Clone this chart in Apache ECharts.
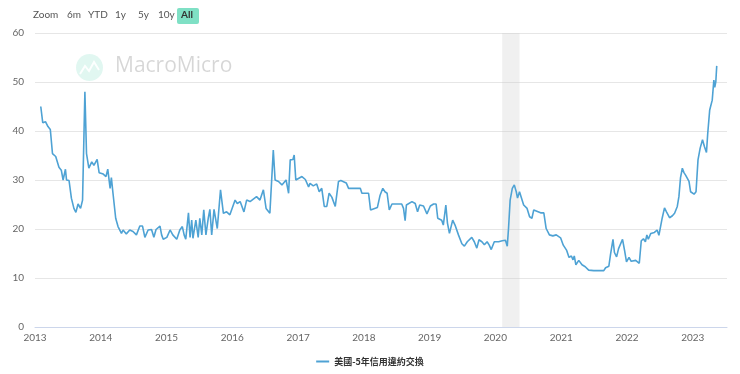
<!DOCTYPE html>
<html>
<head>
<meta charset="utf-8">
<script src="https://cdn.jsdelivr.net/npm/echarts@6/dist/echarts.min.js"></script>
<style>
html,body{margin:0;padding:0;background:#fff;}
#c{width:740px;height:374px;}
</style>
</head>
<body>
<div id="c"></div>
<script>
// ---- data ----
var seriesName = '美國-5年信用違約交換';
var yAxisName = 'Basis Point';
var rangeButtons = ['Zoom', '6m', 'YTD', '1y', '5y', '10y', 'All'];
var recession = ['2020-02-08', '2020-05-14'];
var axisStart = '2013-01-01';
var axisEnd = '2023-07-10';
var yTicks = [0, 10, 20, 30, 40, 50, 60];

var dates = [
'2013-02-02','2013-02-13','2013-02-28','2013-03-14','2013-03-27','2013-04-08','2013-04-26','2013-05-14','2013-05-27','2013-06-06',
'2013-06-19','2013-06-25','2013-07-09','2013-07-22','2013-08-05','2013-08-16','2013-08-28','2013-09-11','2013-09-22','2013-10-05',
'2013-10-14','2013-10-27','2013-11-12','2013-11-24','2013-12-12','2013-12-23','2014-01-15','2014-01-30','2014-02-09','2014-02-22',
'2014-03-01','2014-03-10','2014-03-25','2014-04-07','2014-04-26','2014-05-05','2014-05-23','2014-06-11','2014-06-29','2014-07-18',
'2014-08-06','2014-08-21','2014-09-03','2014-09-21','2014-10-10','2014-10-23','2014-11-04','2014-11-26','2014-12-05','2014-12-14',
'2015-01-03','2015-01-21','2015-02-05','2015-02-27','2015-03-16','2015-03-30','2015-04-09','2015-04-18','2015-05-03','2015-05-12',
'2015-05-21','2015-05-28','2015-06-13','2015-06-26','2015-07-05','2015-07-16','2015-07-27','2015-08-08','2015-08-21','2015-08-30',
'2015-09-09','2015-09-22','2015-10-10','2015-10-28','2015-11-13','2015-12-01','2015-12-19','2016-01-17','2016-01-29','2016-02-14',
'2016-03-06','2016-03-21','2016-04-09','2016-05-15','2016-06-03','2016-06-22','2016-07-07','2016-07-28','2016-08-16','2016-08-26',
'2016-09-14','2016-10-03','2016-10-26','2016-11-09','2016-11-18','2016-12-03','2016-12-10','2016-12-19','2017-01-22','2017-02-10',
'2017-02-28','2017-03-08','2017-03-26','2017-04-14','2017-04-28','2017-05-12','2017-05-26','2017-06-09','2017-06-22','2017-07-07',
'2017-07-16','2017-07-26','2017-08-13','2017-08-26','2017-09-25','2017-10-08','2017-12-12','2017-12-21','2018-01-27','2018-02-07',
'2018-03-17','2018-04-01','2018-04-16','2018-04-28','2018-05-10','2018-05-22','2018-06-06','2018-07-30','2018-08-09','2018-08-18',
'2018-08-25','2018-09-25','2018-10-13','2018-10-26','2018-11-07','2018-11-28','2018-12-17','2019-01-05','2019-01-23','2019-02-06',
'2019-02-15','2019-03-09','2019-03-18','2019-04-01','2019-04-10','2019-04-21','2019-05-09','2019-05-22','2019-06-10','2019-06-29',
'2019-07-13','2019-07-29','2019-08-23','2019-09-06','2019-09-20','2019-10-02','2019-10-18','2019-11-01','2019-11-16','2019-11-28',
'2019-12-09','2019-12-26','2020-01-19','2020-02-08','2020-02-26','2020-03-07','2020-03-14','2020-03-23','2020-04-04','2020-04-15',
'2020-04-26','2020-05-03','2020-05-14','2020-05-24','2020-06-06','2020-06-25','2020-07-09','2020-07-22','2020-08-01','2020-09-08',
'2020-09-26','2020-10-09','2020-10-27','2020-11-15','2020-12-04','2020-12-28','2021-01-12','2021-01-30','2021-02-13','2021-02-26',
'2021-03-07','2021-03-14','2021-03-23','2021-04-08','2021-04-26','2021-05-14','2021-06-02','2021-06-30','2021-08-25','2021-09-04',
'2021-09-22','2021-10-01','2021-10-15','2021-10-23','2021-11-04','2021-11-15','2021-11-26','2021-12-07','2021-12-18','2021-12-29',
'2022-01-12','2022-01-24','2022-02-18','2022-03-10','2022-03-21','2022-04-02','2022-04-13','2022-04-21','2022-04-29','2022-05-13',
'2022-06-02','2022-06-17','2022-06-27','2022-07-15','2022-07-28','2022-08-08','2022-08-25','2022-09-10','2022-09-22','2022-10-07',
'2022-10-16','2022-10-25','2022-11-04','2022-11-13','2022-11-22','2022-12-02','2022-12-11','2022-12-20','2022-12-29','2023-01-08',
'2023-01-19','2023-01-30','2023-02-11','2023-02-24','2023-03-07','2023-03-18','2023-03-25','2023-04-05','2023-04-19','2023-04-28',
'2023-05-03','2023-05-09','2023-05-14'
];
var values = [
45.0,41.7,41.9,40.9,40.3,35.4,34.8,32.6,32.0,30.0,
32.2,30.0,29.9,26.3,24.2,23.4,25.1,24.2,25.9,48.0,
35.4,32.4,33.7,33.0,34.2,31.5,31.2,30.7,32.2,28.3,
30.5,27.3,22.2,20.5,19.1,19.8,19.0,19.8,19.5,18.8,
20.6,20.6,18.3,19.8,19.9,18.3,19.9,20.6,18.8,17.9,
18.3,19.8,18.8,17.9,19.8,20.5,18.8,17.9,23.3,18.3,
21.8,18.1,21.8,18.3,22.2,18.8,23.9,18.8,22.2,24.0,
18.8,24.0,20.1,28.0,23.2,23.5,22.9,25.9,25.2,25.6,
23.5,25.9,25.6,26.6,25.9,28.0,24.2,23.2,36.1,30.0,
29.7,29.0,30.0,27.3,34.1,34.2,35.1,30.0,30.7,30.1,
28.6,29.3,28.8,29.2,27.6,28.3,24.6,24.6,27.3,26.5,
26.6,24.6,29.7,29.9,29.4,28.3,28.3,27.3,27.3,23.9,
24.4,26.9,28.3,27.6,27.3,23.9,25.1,25.1,24.2,21.7,
24.9,25.6,25.2,23.5,24.9,24.7,23.1,24.7,25.1,25.1,
22.2,21.8,20.8,24.9,21.2,19.1,21.8,20.8,18.8,17.0,
16.5,17.4,18.3,17.4,16.1,17.8,17.4,16.8,17.4,16.7,
15.8,17.4,17.4,17.6,17.7,16.5,20.1,25.9,28.3,29.0,
27.6,26.3,27.6,27.3,24.9,24.2,22.5,22.2,23.9,23.3,
23.3,20.1,18.8,18.6,18.8,18.2,16.7,15.7,14.2,14.5,
13.7,14.5,12.7,13.6,12.7,12.3,11.6,11.5,11.5,12.1,
12.4,14.7,17.9,15.2,14.3,16.0,16.1,17.9,15.7,13.3,
14.2,13.4,13.6,13.0,17.6,18.0,17.4,18.8,17.9,19.1,
19.3,19.8,18.7,22.2,24.3,23.5,22.3,22.7,23.2,24.6,
26.6,30.5,32.4,31.5,31.0,31.2,29.7,27.6,28.0,27.1,
27.6,34.1,36.5,38.2,36.8,35.6,39.5,44.3,46.3,50.4,
48.9,50.1,53.3
];

var lineData = dates.map(function (d, i) { return [d, values[i]]; });
var DAY = 86400000;

// range selector buttons (decoration)
var btnX = [33, 67, 88, 115, 138, 158, 182];
var graphics = [];
rangeButtons.forEach(function (t, i) {
  if (t === 'All') {
    graphics.push({ type: 'rect', left: 177, top: 8, shape: { width: 22, height: 16, r: 2 },
      style: { fill: '#7fe0c5' }, z: 10 });
    graphics.push({ type: 'text', left: 181, top: 10, style: { text: t, fill: '#333', font: 'bold 10px Lato, sans-serif' }, z: 11 });
  } else {
    graphics.push({ type: 'text', left: btnX[i], top: 10, style: { text: t, fill: '#555', font: '10px Lato, sans-serif' }, z: 11 });
  }
});
// watermark logo
graphics.push({ type: 'circle', shape: { cx: 89.5, cy: 67.5, r: 13.5 }, style: { fill: 'rgba(120,220,190,0.22)' }, z: 1, silent: true });
graphics.push({ type: 'polyline', shape: { points: [[80, 74], [85, 66], [89, 71], [94, 62], [99, 70]] },
  style: { stroke: 'rgba(255,255,255,0.9)', lineWidth: 2, fill: null }, z: 2, silent: true });
graphics.push({ type: 'text', left: 115, top: 56, style: { text: 'MacroMicro', fill: 'rgba(0,0,0,0.16)', font: '21px "Open Sans", sans-serif' }, z: 1, silent: true });

var chart = echarts.init(document.getElementById('c'), null, { renderer: 'canvas' });
chart.setOption({
  animation: false,
  backgroundColor: '#fff',
  graphic: graphics,
  grid: { left: 35, right: 13, top: 33, bottom: 47, containLabel: false, outerBoundsMode: 'none' },
  legend: {
    bottom: 3, left: 'center',
    itemWidth: 13, itemHeight: 2, itemGap: 10,
    textStyle: { color: '#333', fontSize: 9, fontWeight: 'bold', fontFamily: '"Noto Sans CJK TC", sans-serif' },
    data: [{ name: seriesName, icon: 'rect' }]
  },
  xAxis: {
    type: 'time',
    min: axisStart, max: axisEnd,
    minInterval: 365 * DAY, maxInterval: 366 * DAY,
    axisLine: { show: true, lineStyle: { color: '#ccd6eb' } },
    axisTick: { show: false },
    splitLine: { show: false },
    axisLabel: {
      color: '#666', fontSize: 10, margin: 6, hideOverlap: false,
      fontFamily: 'Lato, sans-serif',
      formatter: '{yyyy}'
    }
  },
  yAxis: {
    type: 'value', min: yTicks[0], max: yTicks[yTicks.length - 1], interval: 10,
    name: yAxisName, nameLocation: 'middle', nameGap: 27, nameRotate: 90,
    nameTextStyle: { color: '#666', fontSize: 10, fontFamily: 'Lato, sans-serif' },
    axisLine: { show: false }, axisTick: { show: false },
    axisLabel: { color: '#666', fontSize: 10, margin: 11, fontFamily: 'Lato, sans-serif' },
    splitLine: { lineStyle: { color: '#e6e6e6' } }
  },
  series: [{
    name: seriesName, type: 'line', data: lineData,
    symbol: 'none', color: '#4ea2d4',
    lineStyle: { width: 1.6, color: '#4ea2d4' },
    markArea: {
      silent: true,
      itemStyle: { color: 'rgba(200,200,200,0.28)' },
      data: [[{ xAxis: recession[0] }, { xAxis: recession[1] }]]
    }
  }]
});
</script>
</body>
</html>
